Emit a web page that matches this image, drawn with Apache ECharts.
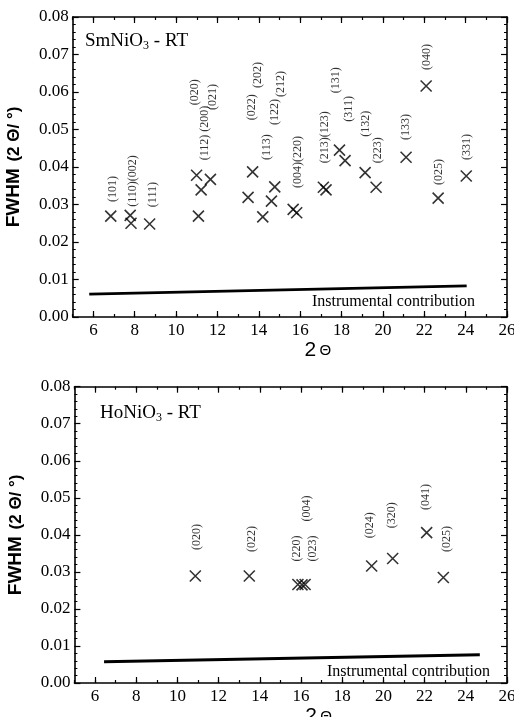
<!DOCTYPE html>
<html><head><meta charset="utf-8">
<script src="https://cdn.jsdelivr.net/npm/echarts@6/dist/echarts.min.js"></script>
<style>html,body{margin:0;padding:0;background:#fff}#c{width:514px;height:717px}</style>
</head><body><div id="c"></div>
<script>
// ---- SmNiO3 panel ----
const smX = [6.84, 7.78, 7.82, 8.72, 10.99, 11.08, 11.21, 11.66, 13.48, 13.70, 14.19, 14.61, 14.77, 15.66, 15.83, 17.12, 17.25, 17.90, 18.17, 19.14, 19.67, 21.12, 22.09, 22.67, 24.03];
const smY = [0.0269, 0.0271, 0.0250, 0.0248, 0.0378, 0.0269, 0.0339, 0.0367, 0.0319, 0.0387, 0.0267, 0.0309, 0.0347, 0.0287, 0.0278, 0.0346, 0.0339, 0.0445, 0.0417, 0.0385, 0.0346, 0.0426, 0.0616, 0.0317, 0.0376];
const smLabelText = ['(101)','(110)(002)','(111)','(020)','(112) (200)','(021)','(022)','(202)','(113)','(122)','(212)','(004)(220)','(213)(123)','(131)','(311)','(132)','(223)','(133)','(040)','(025)','(331)'];
const smLabelX = [6.94, 7.91, 8.88, 10.89, 11.38, 11.80, 13.64, 13.93, 14.37, 14.77, 15.06, 15.90, 17.17, 17.73, 18.35, 19.19, 19.76, 21.13, 22.10, 22.70, 24.05];
const smLabelY = [0.0307, 0.0294, 0.0293, 0.0565, 0.0418, 0.0552, 0.0525, 0.0611, 0.0419, 0.0512, 0.0587, 0.0344, 0.0410, 0.0597, 0.0521, 0.0481, 0.0410, 0.0472, 0.0659, 0.0352, 0.0419];
const smInstX = [5.8, 24.05];
const smInstY = [0.0061, 0.0083];

// ---- HoNiO3 panel ----
const hoX = [10.87, 13.49, 15.85, 16.05, 16.20, 19.43, 20.45, 22.10, 22.91];
const hoY = [0.0289, 0.0289, 0.0266, 0.0265, 0.0266, 0.0316, 0.0336, 0.0406, 0.0285];
const hoLabelText = ['(020)','(022)','(220)','(004)','(023)','(024)','(320)','(041)','(025)'];
const hoLabelX = [10.96, 13.60, 15.78, 16.30, 16.59, 19.35, 20.39, 22.04, 23.06];
const hoLabelY = [0.0359, 0.0354, 0.0328, 0.0436, 0.0328, 0.0391, 0.0418, 0.0467, 0.0354];
const hoInstX = [6.44, 24.68];
const hoInstY = [0.00575, 0.00764];

// ---- axes ----
const xMin = 5, xMax = 26;
const xMajorTicks = [6, 8, 10, 12, 14, 16, 18, 20, 22, 24, 26];
const yMin = 0, yMax = 0.08, yStep = 0.01;

const serif = 'Liberation Serif';
const sans = 'Liberation Sans';
const zip = (a, b) => a.map((v, i) => [v, b[i]]);

function xAxes(gi, showName) {
  const base = {type: 'value', gridIndex: gi, min: xMin, max: xMax, splitLine: {show: false}};
  const line = {show: true, lineStyle: {color: '#000', width: 1.6}};
  return [
    Object.assign({}, base, {position: 'bottom', interval: 1,
      axisLine: line,
      axisTick: {show: true, inside: true, length: 3, lineStyle: {color: '#000', width: 1.2}},
      axisLabel: {customValues: xMajorTicks, margin: 5, color: '#000', fontFamily: serif, fontSize: 17},
      name: showName ? '{a|2} {b|Θ}' : '', nameLocation: 'middle', nameGap: 20,
      nameTextStyle: {padding: [0, 0, 0, 56], rich: {a: {fontFamily: sans, fontSize: 21, color: '#000'}, b: {fontFamily: sans, fontSize: 15, color: '#000'}}}
    }),
    Object.assign({}, base, {position: 'bottom', axisLine: {show: false}, axisLabel: {show: false},
      axisTick: {show: true, inside: true, length: 6, customValues: xMajorTicks, lineStyle: {color: '#000', width: 1.2}}}),
    Object.assign({}, base, {position: 'top', interval: 1, axisLine: line, axisLabel: {show: false},
      axisTick: {show: true, inside: true, length: 3, lineStyle: {color: '#000', width: 1.2}}}),
    Object.assign({}, base, {position: 'top', axisLine: {show: false}, axisLabel: {show: false},
      axisTick: {show: true, inside: true, length: 6, customValues: xMajorTicks, lineStyle: {color: '#000', width: 1.2}}})
  ];
}
function yAxes(gi) {
  const base = {type: 'value', gridIndex: gi, min: yMin, max: yMax, interval: yStep, splitLine: {show: false},
    axisLine: {show: true, lineStyle: {color: '#000', width: 1.6}},
    axisTick: {show: true, inside: true, length: 6, lineStyle: {color: '#000', width: 1.2}},
    minorTick: {show: true, splitNumber: 5, length: 3, lineStyle: {color: '#000', width: 1}}};
  return [
    Object.assign({}, base, {position: 'left',
      axisLabel: {margin: 4, color: '#000', fontFamily: serif, fontSize: 17, formatter: v => v.toFixed(2)},
      name: '{a|FWHM}  {b|(2 Θ/ °)}', nameLocation: 'middle', nameGap: 49,
      nameTextStyle: {rich: {a: {fontFamily: sans, fontWeight: 'bold', fontSize: 19, color: '#000'}, b: {fontFamily: sans, fontWeight: 'bold', fontSize: 17, color: '#000'}}}}),
    Object.assign({}, base, {position: 'right', axisLabel: {show: false}})
  ];
}

const xMark = 'path://M0,0L10,10M10,0L0,10';
function panelSeries(gi, xs, ys, lx, ly, lt, ix, iy) {
  const xi = gi * 4, yi = gi * 2;
  return [
    {type: 'scatter', xAxisIndex: xi, yAxisIndex: yi, data: zip(xs, ys), symbol: xMark, symbolSize: 11,
      itemStyle: {color: 'none', borderColor: '#000', borderWidth: 1.6}, silent: true, z: 3},
    {type: 'scatter', xAxisIndex: xi, yAxisIndex: yi, data: lx.map((v, i) => ({value: [v, ly[i]], name: lt[i]})),
      symbol: 'circle', symbolSize: 1, itemStyle: {color: 'rgba(0,0,0,0)'}, silent: true,
      label: {show: true, position: 'inside', rotate: 90, align: 'left', verticalAlign: 'middle',
        formatter: p => p.name, color: '#000', fontFamily: serif, fontSize: 12}},
    {type: 'line', xAxisIndex: xi, yAxisIndex: yi, data: zip(ix, iy), symbol: 'none', silent: true,
      lineStyle: {color: '#000', width: 3}}
  ];
}

const chart = echarts.init(document.getElementById('c'), null, {renderer: 'canvas'});
chart.setOption({
  animation: false,
  backgroundColor: '#fff',
  grid: [
    {left: 72.7, right: 7, top: 17, height: 300, outerBoundsMode: 'none', containLabel: false},
    {left: 74.4, right: 7, top: 386.7, height: 296.3, outerBoundsMode: 'none', containLabel: false}
  ],
  xAxis: xAxes(0, true).concat(xAxes(1, true)),
  yAxis: yAxes(0).concat(yAxes(1)),
  series: panelSeries(0, smX, smY, smLabelX, smLabelY, smLabelText, smInstX, smInstY)
    .concat(panelSeries(1, hoX, hoY, hoLabelX, hoLabelY, hoLabelText, hoInstX, hoInstY)),
  graphic: [
    {type: 'text', left: 85, top: 32, style: {text: '{a|SmNiO}{s|3}{a| - RT}', rich: {
      a: {fontFamily: serif, fontSize: 19, fill: '#000'}, s: {fontFamily: serif, fontSize: 12, fill: '#000', verticalAlign: 'bottom', padding: [8, 0, 0, 0]}}}},
    {type: 'text', left: 100, top: 404, style: {text: '{a|HoNiO}{s|3}{a| - RT}', rich: {
      a: {fontFamily: serif, fontSize: 19, fill: '#000'}, s: {fontFamily: serif, fontSize: 12, fill: '#000', verticalAlign: 'bottom', padding: [8, 0, 0, 0]}}}},
    {type: 'text', right: 39, top: 294, style: {text: 'Instrumental contribution', fontFamily: serif, fontSize: 16, fill: '#000'}},
    {type: 'text', right: 24, top: 664, style: {text: 'Instrumental contribution', fontFamily: serif, fontSize: 16, fill: '#000'}}
  ]
});
</script></body></html>
